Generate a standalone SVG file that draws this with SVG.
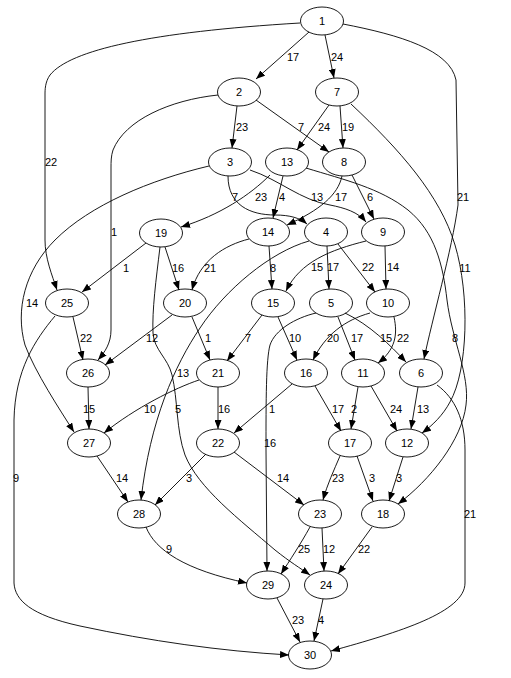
<svg xmlns="http://www.w3.org/2000/svg" width="511" height="678" viewBox="0 0 511 678">
<style>
text{font-family:"Liberation Sans",Arial,Helvetica,sans-serif;font-size:11px;text-anchor:middle;fill:#000}
.n ellipse{fill:#fff;stroke:#000;stroke-width:0.9}
#edges path{fill:none;stroke:#000;stroke-width:0.9;marker-end:url(#ah)}
</style>
<defs>
<marker id="ah" markerWidth="9" markerHeight="7" refX="9" refY="3.5" orient="auto" markerUnits="userSpaceOnUse"><path d="M0,0 L9,3.5 L0,7 z" fill="#000"/></marker>
</defs>
<rect width="511" height="678" fill="#fff"/>
<g id="nodes">
<g id="n1" class="n"><ellipse cx="322" cy="21" rx="21.5" ry="14"/><text x="322" y="25">1</text></g>
<g id="n2" class="n"><ellipse cx="239" cy="92" rx="21.5" ry="14"/><text x="239" y="96">2</text></g>
<g id="n7" class="n"><ellipse cx="337" cy="92" rx="21.5" ry="14"/><text x="337" y="96">7</text></g>
<g id="n3" class="n"><ellipse cx="230" cy="162" rx="21.5" ry="14"/><text x="230" y="166">3</text></g>
<g id="n13" class="n"><ellipse cx="287" cy="162" rx="21.5" ry="14"/><text x="287" y="166">13</text></g>
<g id="n8" class="n"><ellipse cx="344" cy="162" rx="21.5" ry="14"/><text x="344" y="166">8</text></g>
<g id="n19" class="n"><ellipse cx="161" cy="233" rx="21.5" ry="14"/><text x="161" y="237">19</text></g>
<g id="n14" class="n"><ellipse cx="268" cy="232" rx="21.5" ry="14"/><text x="268" y="236">14</text></g>
<g id="n4" class="n"><ellipse cx="326" cy="232" rx="21.5" ry="14"/><text x="326" y="236">4</text></g>
<g id="n9" class="n"><ellipse cx="383" cy="232" rx="21.5" ry="14"/><text x="383" y="236">9</text></g>
<g id="n25" class="n"><ellipse cx="67" cy="303" rx="21.5" ry="14"/><text x="67" y="307">25</text></g>
<g id="n20" class="n"><ellipse cx="185" cy="303" rx="21.5" ry="14"/><text x="185" y="307">20</text></g>
<g id="n15" class="n"><ellipse cx="273" cy="303" rx="21.5" ry="14"/><text x="273" y="307">15</text></g>
<g id="n5" class="n"><ellipse cx="331" cy="303" rx="21.5" ry="14"/><text x="331" y="307">5</text></g>
<g id="n10" class="n"><ellipse cx="388" cy="303" rx="21.5" ry="14"/><text x="388" y="307">10</text></g>
<g id="n26" class="n"><ellipse cx="88" cy="373" rx="21.5" ry="14"/><text x="88" y="377">26</text></g>
<g id="n21" class="n"><ellipse cx="218" cy="373" rx="21.5" ry="14"/><text x="218" y="377">21</text></g>
<g id="n16" class="n"><ellipse cx="306" cy="373" rx="21.5" ry="14"/><text x="306" y="377">16</text></g>
<g id="n11" class="n"><ellipse cx="363" cy="373" rx="21.5" ry="14"/><text x="363" y="377">11</text></g>
<g id="n6" class="n"><ellipse cx="421" cy="373" rx="21.5" ry="14"/><text x="421" y="377">6</text></g>
<g id="n27" class="n"><ellipse cx="89" cy="443" rx="21.5" ry="14"/><text x="89" y="447">27</text></g>
<g id="n22" class="n"><ellipse cx="218" cy="443" rx="21.5" ry="14"/><text x="218" y="447">22</text></g>
<g id="n17" class="n"><ellipse cx="350" cy="443" rx="21.5" ry="14"/><text x="350" y="447">17</text></g>
<g id="n12" class="n"><ellipse cx="407" cy="443" rx="21.5" ry="14"/><text x="407" y="447">12</text></g>
<g id="n28" class="n"><ellipse cx="139" cy="514" rx="21.5" ry="14"/><text x="139" y="518">28</text></g>
<g id="n23" class="n"><ellipse cx="320" cy="514" rx="21.5" ry="14"/><text x="320" y="518">23</text></g>
<g id="n18" class="n"><ellipse cx="383" cy="514" rx="21.5" ry="14"/><text x="383" y="518">18</text></g>
<g id="n29" class="n"><ellipse cx="268" cy="585" rx="21.5" ry="14"/><text x="268" y="589">29</text></g>
<g id="n24" class="n"><ellipse cx="326" cy="585" rx="21.5" ry="14"/><text x="326" y="589">24</text></g>
<g id="n30" class="n"><ellipse cx="310" cy="655" rx="21.5" ry="14"/><text x="310" y="659">30</text></g>
</g>
<g id="edges">
<path d="M309,32 L256,79"/><text x="293" y="61">17</text>
<path d="M325,35 L334,78"/><text x="337" y="61">24</text>
<path d="M300,23 C150,32 70,50 50,75 C45,82 45,90 45,95 L45,240 C45,258 52,275 57,290"/><text x="51" y="166">22</text>
<path d="M343,24 C400,35 450,50 456,80 L458,205 C452,250 432,320 424,359"/><text x="463" y="201">21</text>
<path d="M237,106 L232,148"/><text x="242" y="131">23</text>
<path d="M256,100 L329,152"/><text x="301" y="131">7</text>
<path d="M218,95 C170,100 125,120 113,150 C111,156 111,162 111,168 L111,330 C111,343 105,352 98,360"/><text x="114" y="236">1</text>
<path d="M329,105 L297,150"/><text x="324" y="131">24</text>
<path d="M340,106 L343,148"/><text x="348" y="131">19</text>
<path d="M351,104 C400,150 440,195 455,245 C470,295 468,370 450,402 C443,415 433,425 422,433"/><text x="465" y="272">11</text>
<path d="M228,176 C228,205 250,215 275,215 C290,215 300,218 307,224"/><text x="235" y="201">7</text>
<path d="M250,170 C280,180 300,200 330,205 C345,208 358,212 366,222"/><text x="317" y="201">13</text>
<path d="M209,166 C150,180 90,205 55,240 C25,270 15,310 25,345 C35,372 60,410 74,432"/><text x="32" y="307">14</text>
<path d="M270,175 C250,195 220,215 181,227"/><text x="261" y="201">23</text>
<path d="M283,176 L273,218"/><text x="282" y="201">4</text>
<path d="M306,168 C345,180 380,188 408,210 C435,232 443,265 447,300 C452,340 470,375 466,405 C462,440 430,480 398,504"/><text x="455" y="342">8</text>
<path d="M342,176 C338,195 320,210 287,225"/><text x="341" y="201">17</text>
<path d="M352,175 L374,219"/><text x="370" y="201">6</text>
<path d="M146,243 L82,292"/><text x="126" y="272">1</text>
<path d="M165,247 L179,290"/><text x="178" y="272">16</text>
<path d="M160,247 C156,280 152,310 153,333 C154,350 168,358 172,375 C178,400 176,430 185,455 C198,488 240,520 275,550 C290,562 300,568 310,575"/><text x="178" y="413">5</text>
<path d="M249,239 C225,245 200,260 192,290"/><text x="210" y="272">21</text>
<path d="M269,246 L272,289"/><text x="273" y="272">8</text>
<path d="M309,241 C270,252 225,290 200,328 C175,365 150,420 141,500"/><text x="183" y="377">13</text>
<path d="M327,246 L329,289"/><text x="333" y="271">17</text>
<path d="M338,244 L375,292"/><text x="368" y="271">22</text>
<path d="M366,241 C330,250 300,262 286,291"/><text x="317" y="271">15</text>
<path d="M385,246 L386,289"/><text x="393" y="271">14</text>
<path d="M73,317 L83,360"/><text x="86" y="342">22</text>
<path d="M55,316 C35,340 15,370 14,420 L14,583 C15,600 30,615 80,626 C150,641 220,651 289,655"/><text x="16" y="482">9</text>
<path d="M172,315 L105,365"/><text x="152" y="342">12</text>
<path d="M192,317 L210,360"/><text x="208" y="342">1</text>
<path d="M262,315 L227,361"/><text x="248" y="342">7</text>
<path d="M278,317 L297,360"/><text x="295" y="342">10</text>
<path d="M316,313 C295,318 275,330 270,345 C266,360 266,400 266,450 L267,571"/><text x="270" y="447">16</text>
<path d="M338,317 L355,360"/><text x="357" y="342">17</text>
<path d="M345,313 C370,325 390,345 406,362"/><text x="386" y="342">15</text>
<path d="M370,313 C345,320 325,335 313,360"/><text x="333" y="342">20</text>
<path d="M394,317 C398,335 395,350 378,363"/><text x="403" y="342">22</text>
<path d="M88,387 L89,429"/><text x="89" y="413">15</text>
<path d="M199,380 C175,388 135,408 104,433"/><text x="150" y="413">10</text>
<path d="M218,387 L218,429"/><text x="224" y="413">16</text>
<path d="M292,384 L234,433"/><text x="272" y="413">1</text>
<path d="M315,386 L341,431"/><text x="338" y="413">17</text>
<path d="M358,387 L351,429"/><text x="354" y="413">2</text>
<path d="M371,386 L397,431"/><text x="396" y="413">24</text>
<path d="M418,387 L411,429"/><text x="423" y="413">13</text>
<path d="M437,385 C455,398 465,420 465,450 L465,583 C465,612 400,632 331,651"/><text x="470" y="518">21</text>
<path d="M97,456 L128,502"/><text x="122" y="482">14</text>
<path d="M206,454 L155,505"/><text x="189" y="482">3</text>
<path d="M234,452 L304,505"/><text x="283" y="482">14</text>
<path d="M340,456 C334,470 327,485 323,500"/><text x="338" y="482">23</text>
<path d="M357,456 L373,501"/><text x="372" y="482">3</text>
<path d="M403,457 L389,501"/><text x="399" y="482">3</text>
<path d="M146,527 C155,550 185,570 247,583"/><text x="169" y="553">9</text>
<path d="M310,527 C300,545 290,560 281,574"/><text x="304" y="553">25</text>
<path d="M322,528 L324,571"/><text x="329" y="553">12</text>
<path d="M372,527 L338,574"/><text x="364" y="553">22</text>
<path d="M277,598 L300,642"/><text x="298" y="624">23</text>
<path d="M323,599 L314,641"/><text x="321" y="624">4</text>
</g>
</svg>
